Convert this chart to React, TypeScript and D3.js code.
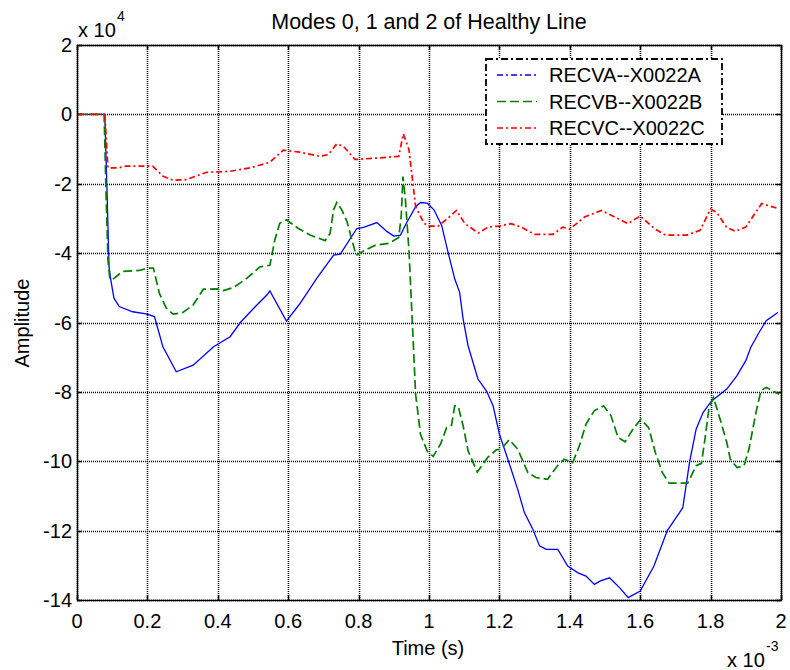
import React from "react";
import * as d3 from "d3";

const xTicks = [0, 0.2, 0.4, 0.6, 0.8, 1, 1.2, 1.4, 1.6, 1.8, 2];
const yTicks = [2, 0, -2, -4, -6, -8, -10, -12, -14];

// time in 1e-3 s, amplitude in 1e4
const recvaT = [0, 0.079, 0.086, 0.091, 0.096, 0.105, 0.12, 0.158, 0.196, 0.22, 0.244, 0.282, 0.33, 0.388, 0.435, 0.464, 0.502, 0.54, 0.548, 0.595, 0.633, 0.681, 0.729, 0.748, 0.795, 0.814, 0.852, 0.881, 0.9, 0.919, 0.933, 0.962, 0.976, 0.995, 1.014, 1.036, 1.054, 1.073, 1.087, 1.097, 1.111, 1.139, 1.163, 1.182, 1.2, 1.224, 1.252, 1.271, 1.295, 1.314, 1.333, 1.366, 1.394, 1.422, 1.446, 1.47, 1.487, 1.513, 1.542, 1.566, 1.6, 1.639, 1.677, 1.721, 1.74, 1.759, 1.779, 1.803, 1.846, 1.875, 1.9, 1.914, 1.938, 1.958, 1.991];
const recvaV = [0, 0, -2.46, -4.39, -4.77, -5.3, -5.54, -5.69, -5.75, -5.83, -6.7, -7.42, -7.23, -6.7, -6.41, -6.0, -5.59, -5.2, -5.09, -5.96, -5.46, -4.73, -4.06, -4.03, -3.29, -3.26, -3.12, -3.38, -3.51, -3.48, -3.19, -2.66, -2.54, -2.56, -2.75, -3.2, -3.97, -4.74, -5.13, -5.9, -6.67, -7.63, -7.97, -8.4, -9.22, -9.94, -10.81, -11.48, -11.96, -12.44, -12.54, -12.54, -13.02, -13.21, -13.31, -13.55, -13.45, -13.36, -13.65, -13.93, -13.74, -13.02, -12.0, -11.34, -10.04, -9.07, -8.59, -8.26, -7.92, -7.53, -7.1, -6.72, -6.28, -5.95, -5.71];

const recvbT = [0, 0.077, 0.083, 0.088, 0.093, 0.1, 0.129, 0.177, 0.201, 0.217, 0.234, 0.254, 0.273, 0.301, 0.33, 0.359, 0.397, 0.416, 0.445, 0.483, 0.519, 0.548, 0.562, 0.576, 0.595, 0.629, 0.662, 0.705, 0.719, 0.729, 0.738, 0.752, 0.767, 0.781, 0.793, 0.819, 0.848, 0.886, 0.914, 0.921, 0.926, 0.933, 0.943, 0.952, 0.962, 0.976, 0.995, 1.012, 1.033, 1.05, 1.064, 1.073, 1.083, 1.097, 1.111, 1.137, 1.167, 1.191, 1.205, 1.228, 1.252, 1.281, 1.304, 1.337, 1.365, 1.384, 1.408, 1.427, 1.446, 1.47, 1.496, 1.517, 1.537, 1.557, 1.581, 1.602, 1.624, 1.643, 1.663, 1.682, 1.735, 1.759, 1.774, 1.784, 1.795, 1.808, 1.827, 1.846, 1.856, 1.875, 1.895, 1.909, 1.929, 1.943, 1.958, 1.977, 1.994];
const recvbV = [0, 0, -2.46, -4.19, -4.72, -4.77, -4.53, -4.5, -4.43, -4.43, -5.16, -5.59, -5.76, -5.71, -5.49, -5.04, -5.03, -5.08, -4.99, -4.72, -4.4, -4.35, -3.62, -3.14, -3.04, -3.29, -3.48, -3.64, -3.43, -2.75, -2.54, -2.75, -3.09, -3.62, -4.06, -3.91, -3.77, -3.72, -3.55, -2.95, -1.79, -2.46, -3.91, -5.85, -8.07, -9.23, -9.71, -9.86, -9.5, -9.03, -8.96, -8.4, -8.42, -8.98, -9.7, -10.31, -9.89, -9.67, -9.65, -9.38, -9.65, -10.33, -10.47, -10.52, -10.13, -9.94, -10.04, -9.56, -8.93, -8.54, -8.4, -8.69, -9.31, -9.44, -9.05, -8.79, -9.03, -9.75, -10.33, -10.63, -10.63, -10.13, -10.06, -9.36, -8.5, -8.16, -8.79, -9.46, -9.94, -10.18, -10.13, -9.65, -8.59, -7.97, -7.87, -7.97, -8.07];

const recvcT = [0, 0.079, 0.088, 0.12, 0.139, 0.18, 0.215, 0.244, 0.273, 0.311, 0.368, 0.435, 0.493, 0.548, 0.586, 0.633, 0.69, 0.714, 0.738, 0.757, 0.79, 0.852, 0.914, 0.927, 0.943, 0.962, 0.986, 1.0, 1.026, 1.054, 1.078, 1.102, 1.14, 1.168, 1.2, 1.233, 1.262, 1.3, 1.352, 1.38, 1.4, 1.442, 1.49, 1.528, 1.565, 1.6, 1.64, 1.672, 1.733, 1.77, 1.8, 1.817, 1.845, 1.87, 1.9, 1.945, 1.987];
const recvcV = [0, 0, -1.54, -1.54, -1.49, -1.49, -1.49, -1.78, -1.9, -1.88, -1.67, -1.64, -1.54, -1.38, -1.03, -1.09, -1.21, -1.16, -0.85, -0.92, -1.3, -1.26, -1.21, -0.56, -1.01, -2.66, -3.14, -3.22, -3.22, -2.99, -2.77, -3.15, -3.42, -3.25, -3.22, -3.15, -3.25, -3.46, -3.46, -3.25, -3.31, -2.96, -2.77, -2.96, -3.15, -2.93, -3.29, -3.48, -3.48, -3.34, -2.73, -2.82, -3.25, -3.37, -3.25, -2.57, -2.7];

const seriesNames = ["RECVA--X0022A", "RECVB--X0022B", "RECVC--X0022C"];

const W = 790, H = 670;
const L = 77, R = 781, T = 45, B = 600;
const FONT = "'Liberation Sans', Arial, sans-serif";

export default function App() {
  const x = d3.scaleLinear().domain([0, 2]).range([L, R]);
  const y = d3.scaleLinear().domain([-14, 2]).range([B, T]);
  const line = d3.line<[number, number]>().x((d) => x(d[0])).y((d) => y(d[1]));
  const zip = (a: number[], b: number[]) => a.map((t, i) => [t, b[i]] as [number, number]);
  const px = (v: number) => Math.round(v) + 0.5;

  const series = [
    { name: seriesNames[0], pts: zip(recvaT, recvaV), color: "#0000ff", dash: undefined as string | undefined, legendDash: "6,3,2,3", w: 1.3 },
    { name: seriesNames[1], pts: zip(recvbT, recvbV), color: "#008000", dash: "9,4", legendDash: "9,4", w: 1.7 },
    { name: seriesNames[2], pts: zip(recvcT, recvcV), color: "#ff0000", dash: "6,3,2,3", legendDash: "6,3,2,3", w: 1.7 },
  ];

  const lx = 486, ly = 59, lw = 236, lh = 85;

  return (
    <svg width={W} height={H} style={{ position: "absolute", left: 0, top: 0, background: "#fff" }} fontFamily={FONT}>
      <rect x={0} y={0} width={W} height={H} fill="#fff" />
      {/* grid */}
      {xTicks.map((t) => (
        <line key={"gx" + t} x1={px(x(t))} x2={px(x(t))} y1={T} y2={B} stroke="#000" strokeWidth={1.5} strokeDasharray="1,1" />
      ))}
      {yTicks.map((t) => (
        <line key={"gy" + t} x1={L} x2={R} y1={px(y(t))} y2={px(y(t))} stroke="#000" strokeWidth={1.5} strokeDasharray="1,1" />
      ))}
      {/* ticks */}
      {xTicks.map((t) => (
        <g key={"tx" + t}>
          <line x1={px(x(t))} x2={px(x(t))} y1={B} y2={B - 5} stroke="#000" strokeWidth={1.5} />
          <line x1={px(x(t))} x2={px(x(t))} y1={T} y2={T + 5} stroke="#000" strokeWidth={1.5} />
          <text x={x(t)} y={628} textAnchor="middle" fontSize={20}>{t}</text>
        </g>
      ))}
      {yTicks.map((t) => (
        <g key={"ty" + t}>
          <line x1={L} x2={L + 5} y1={px(y(t))} y2={px(y(t))} stroke="#000" strokeWidth={1.5} />
          <line x1={R} x2={R - 5} y1={px(y(t))} y2={px(y(t))} stroke="#000" strokeWidth={1.5} />
          <text x={72} y={y(t) + 7} textAnchor="end" fontSize={20}>{t}</text>
        </g>
      ))}
      {/* lines */}
      {series.map((s) => (
        <path key={s.name} d={line(s.pts) || ""} fill="none" stroke={s.color} strokeWidth={s.w} strokeDasharray={s.dash} />
      ))}
      {/* box */}
      <rect x={px(L)} y={px(T)} width={Math.round(R - L)} height={Math.round(B - T)} fill="none" stroke="#000" strokeWidth={1.5} />
      {/* legend */}
      <rect x={lx} y={ly} width={lw} height={lh} fill="#fff" stroke="#000" strokeWidth={1.8} strokeDasharray="7,3,2,3" />
      {series.map((s, i) => (
        <g key={"lg" + i}>
          <line x1={497} x2={537} y1={75 + i * 26.5} y2={75 + i * 26.5} stroke={s.color} strokeWidth={1.4} strokeDasharray={s.legendDash} />
          <text x={549} y={75 + i * 26.5 + 7} fontSize={20}>{s.name}</text>
        </g>
      ))}
      {/* titles */}
      <text x={429} y={29} textAnchor="middle" fontSize={21.5}>Modes 0, 1 and 2 of Healthy Line</text>
      <text x={428} y={655} textAnchor="middle" fontSize={20}>Time (s)</text>
      <text transform="translate(29,323) rotate(-90)" textAnchor="middle" fontSize={20}>Amplitude</text>
      <text x={78} y={37} fontSize={20}>x 10</text>
      <text x={117} y={21} fontSize={14}>4</text>
      <text x={727} y={667} fontSize={20}>x 10</text>
      <text x={766} y={651} fontSize={14}>-3</text>
    </svg>
  );
}
